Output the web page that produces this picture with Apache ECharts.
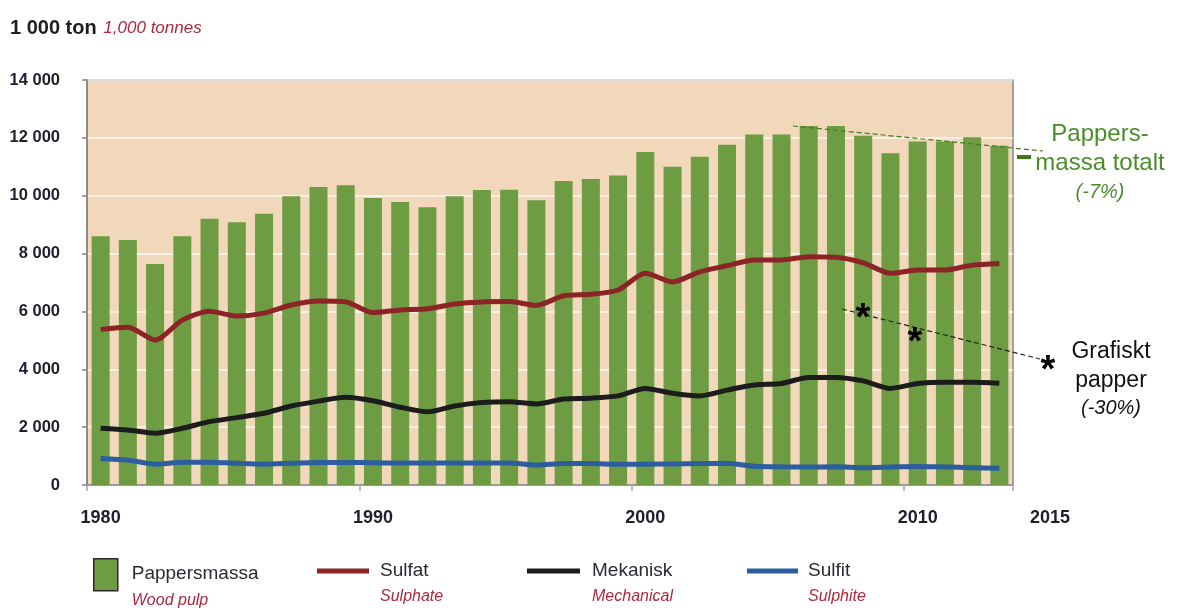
<!DOCTYPE html>
<html>
<head>
<meta charset="utf-8">
<script src="https://cdn.jsdelivr.net/npm/echarts@6/dist/echarts.min.js"></script>
<style>
  html, body { margin: 0; padding: 0; background: #fff; }
  #chart { width: 1184px; height: 610px; }
</style>
</head>
<body>
<div id="chart"></div>
<script>
const YEARS = [
  '1980','1981','1982','1983','1984','1985','1986','1987','1988','1989',
  '1990','1991','1992','1993','1994','1995','1996','1997','1998','1999',
  '2000','2001','2002','2003','2004','2005','2006','2007','2008','2009',
  '2010','2011','2012','2013'
];
const LABEL_YEARS = ['1980', '1990', '2000', '2010'];

// 1 000 ton
const PULP = [
  8600, 8470, 7640, 8600, 9200, 9080, 9380, 9980, 10300, 10360,
  9920, 9780, 9600, 9980, 10200, 10210, 9840, 10510, 10580, 10700,
  11510, 11000, 11350, 11760, 12120, 12120, 12410, 12410, 12070, 11470,
  11870, 11870, 12020, 11730
];
const SULFAT = [
  5380, 5450, 5010, 5700, 6010, 5840, 5940, 6220, 6360, 6330,
  5960, 6050, 6090, 6260, 6330, 6340, 6210, 6540, 6590, 6740,
  7320, 7020, 7370, 7580, 7780, 7780, 7890, 7870, 7680, 7320,
  7430, 7430, 7600, 7660
];
const MEKANISK = [
  1960, 1900, 1790, 1960, 2190, 2330, 2480, 2730, 2900, 3030,
  2910, 2690, 2530, 2730, 2850, 2880, 2800, 2970, 3000, 3080,
  3340, 3170, 3080, 3280, 3460, 3510, 3720, 3720, 3600, 3340,
  3510, 3550, 3550, 3520
];
const SULFIT = [
  920, 860, 720, 790, 790, 750, 720, 750, 780, 780,
  770, 760, 760, 760, 760, 760, 690, 740, 740, 720,
  720, 730, 740, 750, 650, 630, 620, 630, 600, 620,
  640, 620, 600, 580
];

const NAMES_EN = { Pappersmassa: 'Wood pulp', Sulfat: 'Sulphate', Mekanisk: 'Mechanical', Sulfit: 'Sulphite' };

const GREEN = '#6e9c43';
const RED = '#8c2326';
const BLACK = '#1c1c1c';
const BLUE = '#2c5d9e';
const EN_RED = '#b0283c';
const NOTE_GREEN = '#4a8c28';
const FONT = '"Liberation Sans", Arial, sans-serif';

const fmtThousands = v => String(v).replace(/\B(?=(\d{3})+(?!\d))/g, ' ');

function legendItem(name, left, top, w, h, textGap, style) {
  return {
    data: [name], left, top, padding: 0,
    icon: 'rect',
    itemWidth: w, itemHeight: h,
    itemStyle: style,
    selectedMode: false,
    textStyle: {
      padding: [26, 0, 0, textGap],
      rich: {
        a: { fontFamily: FONT, fontSize: 19, color: '#2a2a35', lineHeight: 26 },
        b: { fontFamily: FONT, fontSize: 16, fontStyle: 'italic', color: EN_RED, lineHeight: 27 }
      }
    },
    formatter: n => `{a|${n}}\n{b|${NAMES_EN[n]}}`
  };
}

const AXIS_FONT = { fontFamily: FONT, fontWeight: 'bold', color: '#1e1e2c' };

const chart = echarts.init(document.getElementById('chart'), null, { renderer: 'canvas' });

chart.setOption({
  animation: false,
  grid: {
    left: 87, right: 171, top: 80, bottom: 125,
    show: true, backgroundColor: '#f1d8ba',
    borderColor: '#858585', borderWidth: 1.5
  },
  legend: [
    legendItem('Pappersmassa', 93, 558, 24, 32, 9, { color: GREEN, borderColor: '#2b2b2b', borderWidth: 1.5 }),
    legendItem('Sulfat', 317, 561, 52, 5, 6, { color: RED }),
    legendItem('Mekanisk', 527, 561, 53, 5, 7, { color: BLACK }),
    legendItem('Sulfit', 747, 561, 51, 5, 5, { color: BLUE })
  ],
  xAxis: {
    type: 'category',
    data: YEARS,
    boundaryGap: true,
    axisLine: { lineStyle: { color: '#858585', width: 1.5 } },
    axisTick: {
      show: true, length: 6,
      interval: (i, v) => LABEL_YEARS.includes(v),
      lineStyle: { color: '#a8a8a8', width: 1.5 }
    },
    axisLabel: {
      interval: (i, v) => LABEL_YEARS.includes(v),
      margin: 24,
      fontSize: 18, ...AXIS_FONT
    }
  },
  yAxis: {
    type: 'value',
    min: 0, max: 14000, interval: 2000,
    axisLine: { show: true, lineStyle: { color: '#858585', width: 1.5 } },
    axisTick: { show: true, length: 5, lineStyle: { color: '#858585', width: 1.5 } },
    splitLine: { show: true, lineStyle: { color: '#ffffff', width: 1.5, opacity: 0.85 } },
    axisLabel: {
      margin: 27,
      formatter: fmtThousands,
      fontSize: 16.5, ...AXIS_FONT
    }
  },
  series: [
    {
      name: 'Pappersmassa', type: 'bar', data: PULP,
      barWidth: 18,
      itemStyle: { color: GREEN },
      z: 2
    },
    {
      name: 'Sulfat', type: 'line', data: SULFAT,
      smooth: 0.25, showSymbol: false, symbol: 'none',
      lineStyle: { color: RED, width: 5 }, itemStyle: { color: RED }, z: 3
    },
    {
      name: 'Mekanisk', type: 'line', data: MEKANISK,
      smooth: 0.25, showSymbol: false, symbol: 'none',
      lineStyle: { color: BLACK, width: 5 }, itemStyle: { color: BLACK }, z: 3
    },
    {
      name: 'Sulfit', type: 'line', data: SULFIT,
      smooth: 0.25, showSymbol: false, symbol: 'none',
      lineStyle: { color: BLUE, width: 5 }, itemStyle: { color: BLUE }, z: 3
    }
  ],
  graphic: [
    {
      type: 'text', left: 10, top: 18,
      style: {
        text: '{a|1 000 ton}  {b|1,000 tonnes}',
        rich: {
          a: { fontFamily: FONT, fontWeight: 'bold', fontSize: 20, fill: '#1e1e1e' },
          b: { fontFamily: FONT, fontStyle: 'italic', fontSize: 17, fill: EN_RED }
        }
      }
    },
    {
      type: 'text', left: 1030, top: 509,
      style: { text: '2015', fontFamily: FONT, fontWeight: 'bold', fontSize: 18, fill: '#1e1e2c' }
    },
    // Pappersmassa totalt trend
    {
      type: 'line', z: 10,
      shape: { x1: 793, y1: 126, x2: 1043, y2: 151 },
      style: { stroke: '#3f7d22', lineWidth: 1.2, lineDash: [5, 3] }
    },
    {
      type: 'rect', z: 10,
      shape: { x: 1017, y: 155, width: 14, height: 4 },
      style: { fill: '#3d7a18' }
    },
    {
      type: 'text', z: 10, x: 1100, y: 120,
      style: {
        text: 'Pappers-\nmassa totalt\n{i|(-7%)}',
        align: 'center', verticalAlign: 'top',
        fontFamily: FONT, fontSize: 24, lineHeight: 29, fill: NOTE_GREEN,
        rich: { i: { fontFamily: FONT, fontStyle: 'italic', fontSize: 20, fill: NOTE_GREEN, lineHeight: 29 } }
      }
    },
    // Grafiskt papper trend
    {
      type: 'line', z: 10,
      shape: { x1: 842, y1: 309, x2: 1040, y2: 359 },
      style: { stroke: '#222', lineWidth: 1.2, lineDash: [5, 3] }
    },
    { type: 'text', z: 11, x: 863, y: 320, style: { text: '*', align: 'center', verticalAlign: 'middle', fontFamily: FONT, fontWeight: 'bold', fontSize: 38, fill: '#000' } },
    { type: 'text', z: 11, x: 915, y: 344, style: { text: '*', align: 'center', verticalAlign: 'middle', fontFamily: FONT, fontWeight: 'bold', fontSize: 38, fill: '#000' } },
    { type: 'text', z: 11, x: 1048, y: 372, style: { text: '*', align: 'center', verticalAlign: 'middle', fontFamily: FONT, fontWeight: 'bold', fontSize: 38, fill: '#000' } },
    {
      type: 'text', z: 10, x: 1111, y: 337,
      style: {
        text: 'Grafiskt\npapper\n{i|(-30%)}',
        align: 'center', verticalAlign: 'top',
        fontFamily: FONT, fontSize: 23, lineHeight: 29, fill: '#111',
        rich: { i: { fontFamily: FONT, fontStyle: 'italic', fontSize: 20, fill: '#111', lineHeight: 27 } }
      }
    }
  ]
});
</script>
</body>
</html>
